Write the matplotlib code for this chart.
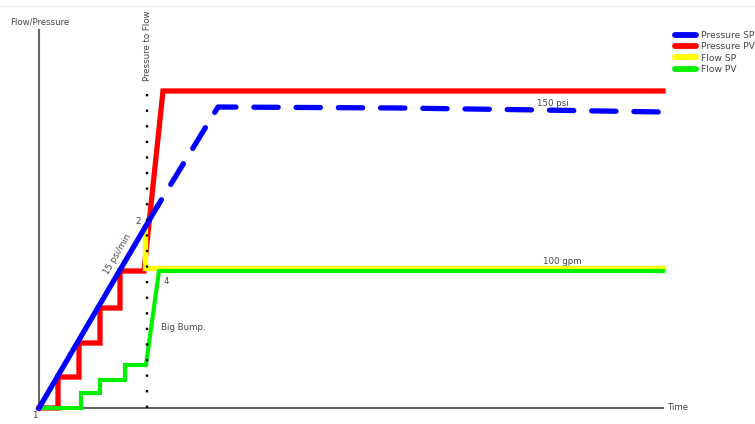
import matplotlib.pyplot as plt
from matplotlib.lines import Line2D

# --- data (time / value units) ---
sp_ramp_t = [0, 118]
sp_ramp_v = [0, 201]
sp_hold_t = [118, 179, 361, 501, 623]
sp_hold_v = [201, 301, 300, 298, 296]

pv_press_t = [0, 19, 19, 40, 40, 61, 61, 81, 81, 105, 124, 624]
pv_press_v = [0, 0, 31, 31, 65, 65, 100, 100, 137, 137, 317, 317]

flow_sp_t = [106, 106, 624]
flow_sp_v = [182, 140, 140]

flow_pv_t = [0, 42, 42, 61, 61, 86, 86, 107, 120, 624]
flow_pv_v = [0, 0, 15, 15, 28, 28, 43, 43, 137, 137]

switch_t = 108
switch_v = [0, 321]

labels = ["Pressure SP", "Pressure PV", "Flow SP", "Flow PV"]
colors = ["#0000FF", "#FF0000", "#FFFF00", "#00EE00"]

fig = plt.figure(figsize=(7.55, 4.24), dpi=100)
ax = fig.add_axes([0, 0, 1, 1])
ax.set_xlim(-39, 716)
ax.set_ylim(-16, 408)
ax.axis("off")

txt = "#444444"
fs = 6.2

# axes lines
ax.plot([0, 0], [0, 378], color="#666666", lw=1.5, zorder=1)
ax.plot([0, 624], [0, 0], color="#666666", lw=1.5, zorder=1)
ax.plot([-39, 716], [402, 402], color="#f0f0f0", lw=1, zorder=0)

ax.plot(pv_press_t, pv_press_v, color=colors[1], lw=3.8, solid_joinstyle="miter", zorder=3)
ax.plot(flow_sp_t, flow_sp_v, color=colors[2], lw=3.8, solid_joinstyle="miter", zorder=4)
ax.plot(flow_pv_t, flow_pv_v, color=colors[3], lw=3.0, solid_joinstyle="miter", zorder=5)
ax.plot(sp_ramp_t, sp_ramp_v, color=colors[0], lw=3.8, zorder=6)
ax.plot(sp_hold_t, sp_hold_v, color=colors[0], lw=3.8,
        linestyle=(3.0, (4.6, 3.4)), dash_capstyle="round", zorder=6)

# switch-over line
ax.plot([switch_t, switch_t], switch_v, color="black", lw=1.7,
        linestyle=(0, (1, 5.6)), zorder=7)

# text
ax.text(-29, 386, "Flow/Pressure", fontsize=fs, color=txt, va="center", ha="left")
ax.text(switch_t, 362, "Pressure to Flow", fontsize=fs, color=txt, rotation=90,
        ha="center", va="center")
ax.text(-4, -7, "1", fontsize=fs, color=txt, ha="center", va="center")
ax.text(99, 186, "2", fontsize=fs, color=txt, ha="center", va="center")
ax.text(127, 126, "4", fontsize=fs, color=txt, ha="center", va="center")
ax.text(122, 81, "Big Bump.", fontsize=fs, color=txt, ha="left", va="center")
ax.text(79, 154, "15 psi/min", fontsize=fs, color=txt, rotation=59.6,
        ha="center", va="center")
ax.text(514, 305, "150 psi", fontsize=fs, color=txt, ha="center", va="center")
ax.text(523, 146, "100 gpm", fontsize=fs, color=txt, ha="center", va="center")
ax.text(629, 0, "Time", fontsize=fs, color=txt, ha="left", va="center")

handles = [Line2D([], [], color=c, lw=4.2, solid_capstyle="round") for c in colors]
fig.legend(handles, labels, loc="upper left", bbox_to_anchor=(675 / 755, 1 - 31 / 424),
           frameon=False, fontsize=6.6, handlelength=2.3, handletextpad=0.5,
           labelspacing=0.25, borderaxespad=0, borderpad=0, labelcolor=txt)

fig.savefig("out.png", dpi=100)
